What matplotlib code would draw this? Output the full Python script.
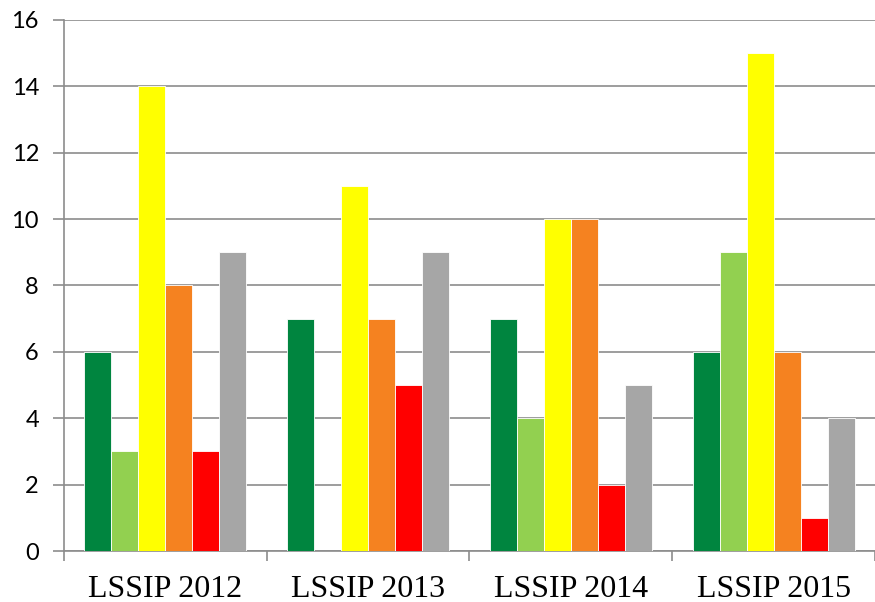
import matplotlib.pyplot as plt
import numpy as np

groups = ["LSSIP 2012", "LSSIP 2013", "LSSIP 2014", "LSSIP 2015"]
dark_green = [6, 7, 7, 6]
light_green = [3, 0, 4, 9]
yellow = [14, 11, 10, 15]
orange = [8, 7, 10, 6]
red = [3, 5, 2, 1]
grey = [9, 9, 5, 4]

series = [dark_green, light_green, yellow, orange, red, grey]
colors = ["#00853F", "#92D050", "#FFFF00", "#F58220", "#FF0000", "#A6A6A6"]

fig = plt.figure(figsize=(8.75, 6.02), dpi=100)
ax = fig.add_axes([0.0731, 0.0847, 0.9269, 0.8821])

x = np.arange(len(groups))
width = 0.8 / len(series)
for i, (vals, col) in enumerate(zip(series, colors)):
    offs = (i - (len(series) - 1) / 2) * width
    ax.bar(x + offs, vals, width, color=col, edgecolor="white", linewidth=0.6, zorder=3)

ax.set_xlim(-0.5, len(groups) - 0.5)
ax.set_ylim(0, 16)
ax.set_yticks(range(0, 17, 2))
ax.yaxis.grid(True, color="#8c8c8c", linewidth=1.2, zorder=0)
ax.set_axisbelow(True)

ax.set_xticks(x)
ax.set_xticklabels(groups, fontsize=23, family="Liberation Serif")
ax.set_xticks(np.arange(len(groups) + 1) - 0.5, minor=True)
ax.tick_params(axis="x", which="major", length=0, pad=17)
ax.tick_params(axis="x", which="minor", length=7, width=1.2, color="#8c8c8c", direction="out")
ax.tick_params(axis="y", length=8, width=1.2, color="#8c8c8c", pad=10, labelsize=17)
for lab in ax.get_yticklabels():
    lab.set_family("Lato")

for s in ["top", "right"]:
    ax.spines[s].set_visible(False)
for s in ["left", "bottom"]:
    ax.spines[s].set_color("#8c8c8c")
    ax.spines[s].set_linewidth(1.2)

fig.savefig("out.png", dpi=100)
